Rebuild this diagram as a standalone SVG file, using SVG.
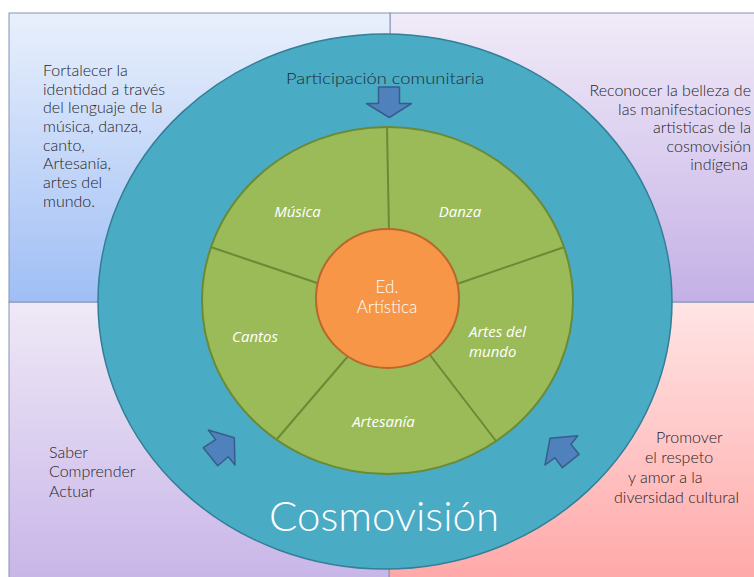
<svg xmlns="http://www.w3.org/2000/svg" width="754" height="577" viewBox="0 0 754 577">
  <defs>
    <linearGradient id="gTL" x1="0" y1="0" x2="0" y2="1">
      <stop offset="0" stop-color="#e9f0fc"/>
      <stop offset="1" stop-color="#9fbef5"/>
    </linearGradient>
    <linearGradient id="gTR" x1="0" y1="0" x2="0" y2="1">
      <stop offset="0" stop-color="#f1ebf8"/>
      <stop offset="1" stop-color="#c4b0e6"/>
    </linearGradient>
    <linearGradient id="gBL" x1="0" y1="0" x2="0" y2="1">
      <stop offset="0" stop-color="#efe9f7"/>
      <stop offset="1" stop-color="#c8b5e8"/>
    </linearGradient>
    <linearGradient id="gBR" x1="0" y1="0" x2="0" y2="1">
      <stop offset="0" stop-color="#ffe5e5"/>
      <stop offset="1" stop-color="#ffa8a8"/>
    </linearGradient>
  </defs>
  <style>
    .quad { stroke: #8393b3; stroke-width: 1; }
    .side { font-family: Lato, "Open Sans", "Liberation Sans", sans-serif; font-weight: 300; font-size: 16px; fill: #1e1e28; }
    .hand { font-family: "Open Sans", "DejaVu Sans", sans-serif; font-style: italic; font-size: 15px; fill: #ffffff; }
    .core { font-family: Lato, "Open Sans", "Liberation Sans", sans-serif; font-weight: 300; font-size: 17px; fill: #ffffff; }
    .divider { stroke: #6b8a35; stroke-width: 2; fill: none; }
    .arrow { fill: #4f81bd; stroke: #385d8a; stroke-width: 1.5; stroke-linejoin: round; }
  </style>

  <!-- background quadrants -->
  <g id="quadrants">
    <rect class="quad" x="389" y="302" width="372" height="280" fill="url(#gBR)"/>
    <rect class="quad" x="9" y="302" width="380" height="280" fill="url(#gBL)"/>
    <rect class="quad" x="390" y="13" width="372" height="289" fill="url(#gTR)"/>
    <rect class="quad" x="9" y="13" width="381" height="289" fill="url(#gTL)"/>
  </g>

  <!-- outer ring: Cosmovisión -->
  <g id="outer-ring">
    <ellipse cx="385" cy="301.5" rx="287" ry="267.5" fill="#4aabc5" stroke="#327f96" stroke-width="1.5"/>
    <text x="286" y="84" font-family="Lato, 'Open Sans', sans-serif" font-weight="300" font-size="16" fill="#1e2a33" textLength="198" lengthAdjust="spacingAndGlyphs">Participación comunitaria</text>
    <text x="269" y="531" font-family="Lato, 'Open Sans', sans-serif" font-weight="300" font-size="42" fill="#ffffff" textLength="230" lengthAdjust="spacingAndGlyphs">Cosmovisión</text>
  </g>

  <!-- arrows pointing toward the centre -->
  <g id="arrows">
    <polygon class="arrow" points="378.5,87 399.5,87 399.5,103.5 411.5,103.5 389.3,117.5 366.5,103.5 378.5,103.5"/>
    <polygon class="arrow" points="208.3,430 234.3,437.7 235,465 228.3,456.7 217.7,465.7 203.3,447.7 215.7,439.6"/>
    <polygon class="arrow" points="550,438.3 577.7,435.7 571,444.3 579,454.3 562.3,467.7 555,457.7 545,465"/>
  </g>

  <!-- green ring with five sections -->
  <g id="sections">
    <ellipse cx="387.5" cy="300.5" rx="185.5" ry="173.5" fill="#9bbb59" stroke="#6b8a35" stroke-width="2"/>
    <g id="dividers">
      <line class="divider" x1="387" y1="127" x2="389" y2="232"/>
      <line class="divider" x1="210.7" y1="247" x2="320" y2="284"/>
      <line class="divider" x1="457" y1="284" x2="564.5" y2="247"/>
      <line class="divider" x1="349" y1="355" x2="277" y2="439"/>
      <line class="divider" x1="430" y1="355" x2="496" y2="441"/>
    </g>
    <g id="musica"><text class="hand" x="297.5" y="217" text-anchor="middle">Música</text></g>
    <g id="danza"><text class="hand" x="460" y="217" text-anchor="middle">Danza</text></g>
    <g id="cantos"><text class="hand" x="255" y="342" text-anchor="middle">Cantos</text></g>
    <g id="artes-del-mundo">
      <text class="hand" x="469" y="337">Artes del</text>
      <text class="hand" x="469" y="357">mundo</text>
    </g>
    <g id="artesania"><text class="hand" x="383.5" y="427" text-anchor="middle">Artesanía</text></g>
  </g>

  <!-- centre: Ed. Artística -->
  <g id="ed-artistica">
    <ellipse cx="387.5" cy="298.5" rx="71.5" ry="69.5" fill="#f79646" stroke="#b8672d" stroke-width="2"/>
    <text class="core" x="387" y="293" text-anchor="middle">Ed.</text>
    <text class="core" x="387" y="313" text-anchor="middle">Artística</text>
  </g>

  <!-- quadrant texts -->
  <g id="text-fortalecer">
    <text class="side" x="43" y="76">Fortalecer  la</text>
    <text class="side" x="43" y="94.7">identidad a través</text>
    <text class="side" x="43" y="113.3">del lenguaje de la</text>
    <text class="side" x="43" y="132">música, danza,</text>
    <text class="side" x="43" y="150.7">canto,</text>
    <text class="side" x="43" y="169.3">Artesanía,</text>
    <text class="side" x="43" y="188">artes del</text>
    <text class="side" x="43" y="206.7">mundo.</text>
  </g>
  <g id="text-reconocer">
    <text class="side" x="751" y="95.5" text-anchor="end">Reconocer la belleza  de</text>
    <text class="side" x="751" y="114.5" text-anchor="end">las manifestaciones</text>
    <text class="side" x="751" y="133" text-anchor="end">artisticas de la</text>
    <text class="side" x="751" y="151.5" text-anchor="end">cosmovisión</text>
    <text class="side" x="748" y="170" text-anchor="end">indígena</text>
  </g>
  <g id="text-saber">
    <text class="side" x="49" y="458">Saber</text>
    <text class="side" x="49" y="477">Comprender</text>
    <text class="side" x="49" y="497">Actuar</text>
  </g>
  <g id="text-promover">
    <text class="side" x="656" y="443">Promover</text>
    <text class="side" x="645" y="463">el respeto</text>
    <text class="side" x="628" y="483">y amor a la</text>
    <text class="side" x="614" y="503">diversidad cultural</text>
  </g>
</svg>
